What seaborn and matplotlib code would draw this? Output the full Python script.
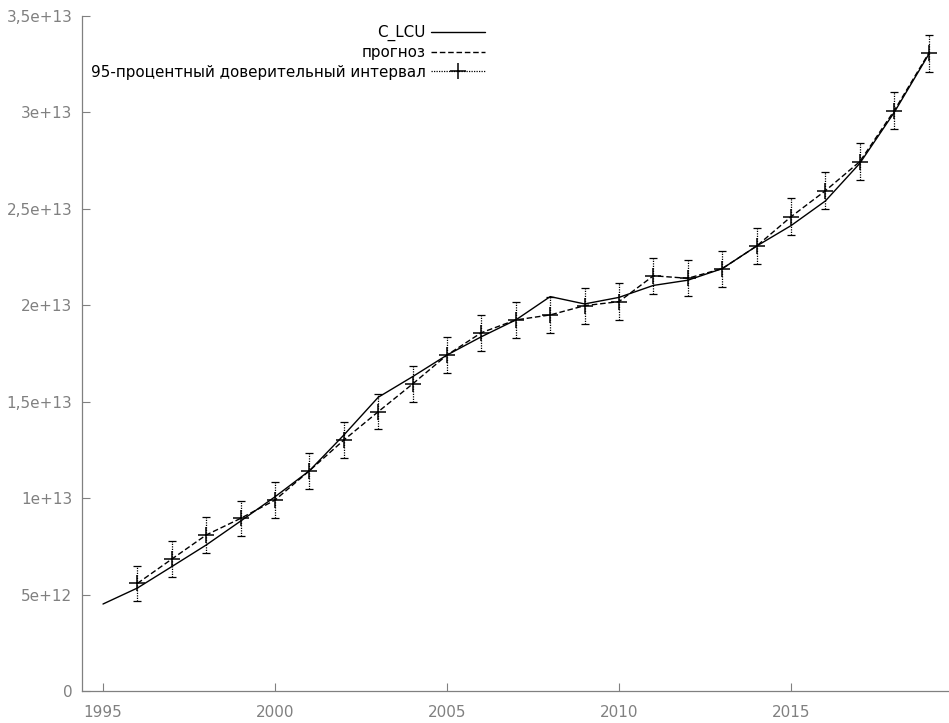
import numpy as np
import pandas as pd
import matplotlib
matplotlib.use("Agg")
import matplotlib.pyplot as plt
import seaborn as sns
from matplotlib.lines import Line2D

sns.set_theme(style="white")
plt.rcParams['font.family'] = ['DejaVu Sans']

# 数据（单位 1e12）
years = [1995, 1996, 1997, 1998, 1999, 2000, 2001, 2002, 2003, 2004, 2005, 2006,
         2007, 2008, 2009, 2010, 2011, 2012, 2013, 2014, 2015, 2016, 2017, 2018, 2019]
c_lcu = [4.51, 5.34, 6.45, 7.57, 8.81, 10.07, 11.42, 13.27, 15.23, 16.30, 17.42, 18.37,
         19.24, 20.45, 20.07, 20.41, 21.03, 21.30, 21.90, 23.07, 24.13, 25.41, 27.36, 30.00, 33.00]
fc_years = years[1:]
forecast = [5.58, 6.84, 8.09, 8.95, 9.90, 11.42, 13.01, 14.48, 15.92, 17.42, 18.58,
            19.24, 19.50, 19.98, 20.19, 21.53, 21.40, 21.90, 23.07, 24.59, 25.94, 27.45, 30.09, 33.06]
half_width = [0.92, 0.92, 0.92, 0.92, 0.92, 0.92, 0.92, 0.92, 0.92, 0.93, 0.93, 0.93,
              0.93, 0.93, 0.94, 0.94, 0.94, 0.94, 0.95, 0.95, 0.95, 0.96, 0.96, 0.97]

yticks = [0, 5e12, 1e13, 1.5e13, 2e13, 2.5e13, 3e13, 3.5e13]
ytick_labels = ["0", "5e+12", "1e+13", "1,5e+13", "2e+13", "2,5e+13", "3e+13", "3,5e+13"]
xticks = [1995, 2000, 2005, 2010, 2015]

df_act = pd.DataFrame({"year": years, "value": np.array(c_lcu) * 1e12})
df_fc = pd.DataFrame({"year": fc_years, "value": np.array(forecast) * 1e12,
                      "err": np.array(half_width) * 1e12})

gray = "#808080"
fig = plt.figure(figsize=(9.49, 7.23), dpi=100)
ax = fig.add_axes([82 / 949, 1 - 691 / 723, 1 - 82 / 949, (691 - 16) / 723])

sns.lineplot(data=df_act, x="year", y="value", ax=ax, color="black", lw=1.0, label="C_LCU")
sns.lineplot(data=df_fc, x="year", y="value", ax=ax, color="black", lw=1.0,
             dashes=False, label="прогноз")
ax.lines[-1].set_dashes((4, 2))

eb = ax.errorbar(df_fc["year"], df_fc["value"], yerr=df_fc["err"], fmt="none",
                 ecolor="black", elinewidth=0.9, capsize=3, capthick=0.9)
eb[2][0].set_linestyle((0, (1, 1)))
ax.plot(df_fc["year"], df_fc["value"], ls="none", marker="+", ms=12, mew=1.1, color="black")

# 图例：文字在左、句柄在右
h_ci = Line2D([0], [0], color="black", lw=0.9, ls=(0, (1, 1)), marker="+", ms=12, mew=1.1)
handles, labels = ax.get_legend_handles_labels()
handles = handles[:2] + [h_ci]
labels = labels[:2] + ["95-процентный доверительный интервал"]
ax.legend(handles, labels, loc="upper right", bbox_to_anchor=(485 / 949, 1 - 25 / 723),
          bbox_transform=fig.transFigure, frameon=False, markerfirst=False,
          handlelength=3.6, handletextpad=0.3, labelspacing=0.28, borderaxespad=0,
          borderpad=0, fontsize=10.9, labelcolor="black")

ax.set_xlim(1995 - 21 / 34.4, 1995 + (949 - 103) / 34.4)
ax.set_ylim(0, 3.5e13)
ax.set_yticks(yticks)
ax.set_yticklabels(ytick_labels)
ax.set_xticks(xticks)
ax.set_xticklabels([str(t) for t in xticks])
ax.set_xlabel("")
ax.set_ylabel("")
ax.tick_params(bottom=True, left=True, direction="in", length=6, width=0.8,
               color=gray, labelcolor=gray, labelsize=11)
ax.tick_params(axis="y", pad=7)
ax.tick_params(axis="x", pad=10)

for s in ["top", "right"]:
    ax.spines[s].set_visible(False)
ax.spines["left"].set_color(gray)
ax.spines["left"].set_linewidth(0.9)
ax.spines["bottom"].set_color(gray)
ax.spines["bottom"].set_linewidth(0.9)
ax.spines["bottom"].set_linestyle((0, (1, 1)))
ax.patch.set_alpha(0)

fig.savefig("out.png", dpi=100)
